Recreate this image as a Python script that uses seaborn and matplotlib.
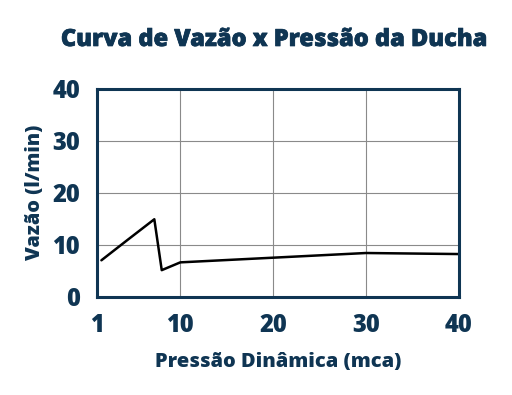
import matplotlib
matplotlib.use("Agg")
import matplotlib.pyplot as plt
import matplotlib.patheffects as pe
import seaborn as sns
import pandas as pd

pressao = [1.5, 4.3, 7.2, 8.0, 10.0, 30.0, 40.0]
vazao = [7.0, 10.9, 14.9, 5.1, 6.6, 8.4, 8.2]
x_ticks = [1, 10, 20, 30, 40]
y_ticks = [0, 10, 20, 30, 40]

title = "Curva de Vazão x Pressão da Ducha"
xlabel = "Pressão Dinâmica (mca)"
ylabel = "Vazão (l/min)"

sns.set_style("white")
plt.rcParams['font.family'] = ['Open Sans', 'DejaVu Sans']

navy = "#0f3553"
df = pd.DataFrame({"p": pressao, "v": vazao})

fig = plt.figure(figsize=(5.12, 3.95), dpi=100)
ax = fig.add_axes([0.189, 0.249, 0.707, 0.526])
sns.lineplot(data=df, x="p", y="v", ax=ax, color="black", linewidth=1.8, sort=False)

ax.set_xlim(1, 40)
ax.set_ylim(0, 40)
ax.set_xticks(x_ticks)
ax.set_yticks(y_ticks)
ax.grid(True, color="#8a8a8a", linewidth=0.8)
ax.set_axisbelow(True)
for s in ax.spines.values():
    s.set_visible(True)
    s.set_color(navy)
    s.set_linewidth(2.2)
ax.tick_params(axis="both", direction="out", length=10, width=1, color="#4a5560",
               labelsize=17, labelcolor=navy, pad=2)
for lab in ax.get_xticklabels() + ax.get_yticklabels():
    lab.set_fontweight(800)
ax.set_xlabel(xlabel, fontsize=14.4, fontweight=800, color=navy, labelpad=10)
ax.set_ylabel(ylabel, fontsize=14.3, fontweight=800, color=navy, labelpad=5)
fig.text(0.536, 0.9, title, ha="center", va="center", fontsize=17,
         fontweight=800, color=navy,
         path_effects=[pe.withStroke(linewidth=0.5, foreground=navy)])
fig.savefig("out.png", dpi=100)
